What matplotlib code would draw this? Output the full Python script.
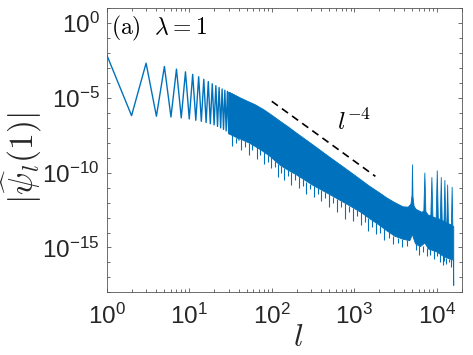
import numpy as np
import matplotlib
matplotlib.use("Agg")
import matplotlib.pyplot as plt
from matplotlib.ticker import FixedLocator, LogLocator, NullFormatter, FuncFormatter

# values, stored as log10 |psi_l(1)|

# first l values: odd / even l alternate between a high and a low branch
l_low = np.arange(1, 41)
logpsi_low = [-2.11, -6.18, -2.67, -6.22, -2.89, -6.27, -3.07, -6.33, -3.25, -6.40,
              -3.42, -6.49, -3.58, -6.56, -3.75, -6.64, -3.90, -6.72, -4.05, -6.80,
              -4.18, -6.90, -4.30, -7.00, -4.40, -7.10, -4.48, -7.20, -4.56, -7.30,
              -4.65, -7.40, -4.72, -7.50, -4.80, -7.60, -4.87, -7.70, -4.94, -7.80]

# dense part: upper edge of the band (includes the resonance peaks near the end)
band_up_l = [30, 40, 50, 63, 80, 100, 126, 160, 200, 300, 500, 700, 1000, 1500,
             2000, 2500, 3100, 3900, 4500, 4850, 5000, 5060, 5130, 5300, 5600,
             6600, 6950, 7150, 7350, 7900, 8450, 8700, 8950, 9800, 10100, 10400,
             11000, 11300, 11600, 12200, 12500, 12800, 13200, 13500, 13800, 15000,
             15300, 15600, 16000]
band_up = [-4.60, -4.95, -5.20, -5.45, -5.78, -6.15, -6.55, -6.95, -7.35, -8.05,
           -8.95, -9.53, -10.15, -10.87, -11.33, -11.70, -12.00, -12.28, -12.30,
           -12.10, -11.50, -9.45, -11.60, -12.25, -12.45, -12.65, -12.55, -10.00,
           -12.60, -12.85, -12.85, -10.30, -12.95, -13.05, -9.85, -13.05, -13.15,
           -10.30, -13.20, -13.25, -10.50, -13.30, -13.35, -10.80, -13.40, -13.50,
           -10.95, -13.55, -13.60]

# lower edge of the band
band_lo_l = [30, 40, 55, 75, 95, 126, 160, 200, 317, 500, 810, 1200, 1560, 2000,
             2500, 3100, 3900, 4700, 5000, 5060, 5150, 5500, 6300, 7150, 7900,
             10000, 12000, 14000, 15800, 16000]
band_lo = [-7.40, -7.70, -8.05, -8.50, -8.90, -9.50, -9.85, -10.15, -10.85, -11.45,
           -12.10, -12.65, -13.10, -13.50, -13.90, -14.25, -14.45, -14.55, -14.20,
           -13.90, -14.30, -14.75, -14.95, -14.70, -15.10, -15.30, -15.60, -15.75,
           -15.85, -17.55]

# thin downward dips below the band
dip_l = [33, 37, 42, 47, 53, 58, 66, 72, 81, 90, 99, 108, 118, 131, 142, 155, 172,
         190, 212, 236, 262, 290, 322, 360, 400, 445, 495, 550, 615, 690, 770, 860,
         960, 1070, 1190, 1330, 1480, 1650, 1840, 2050, 2300, 2600, 2950, 3350,
         3800, 4300, 5600, 6100, 6800, 7600, 8300, 9200, 9900, 10800, 11700, 12200,
         13000, 14200, 14800]
dip_from = [-7.50, -7.65, -7.75, -7.90, -8.00, -8.10, -8.30, -8.40, -8.60, -8.80,
            -8.95, -9.20, -9.40, -9.55, -9.70, -9.80, -9.95, -10.10, -10.25, -10.45,
            -10.60, -10.75, -10.90, -11.00, -11.15, -11.30, -11.45, -11.60, -11.75,
            -11.90, -12.05, -12.20, -12.35, -12.50, -12.65, -12.85, -13.00, -13.15,
            -13.35, -13.50, -13.70, -13.95, -14.20, -14.35, -14.45, -14.50, -14.80,
            -14.90, -14.90, -15.05, -15.10, -15.20, -15.30, -15.40, -15.55, -15.60,
            -15.70, -15.75, -15.80]
dip_to = [-8.20, -8.00, -8.50, -8.30, -8.80, -8.50, -9.10, -8.80, -9.40, -9.30,
          -9.70, -9.60, -10.30, -10.00, -10.50, -10.20, -10.80, -10.50, -11.00,
          -10.90, -11.40, -11.10, -11.60, -11.40, -11.90, -11.70, -12.30, -12.00,
          -12.60, -12.30, -13.10, -12.60, -13.20, -12.90, -13.50, -13.30, -13.90,
          -13.60, -14.10, -14.00, -14.50, -14.40, -14.80, -14.70, -15.00, -14.90,
          -15.20, -15.50, -15.30, -15.60, -15.50, -15.80, -15.60, -16.00, -16.20,
          -15.90, -16.10, -16.00, -16.30]

# reference slope l^-4
ref_l = np.array([100, 1800])
ref_coef = 600.0

plt.rcParams['font.family'] = 'Liberation Sans'
plt.rcParams['mathtext.fontset'] = 'cm'

blue = '#0072BD'
dark = '#262626'


def dec_label(v, pos):
    return r'$\mathregular{10^{%d}}$' % round(np.log10(v))


fig = plt.figure(figsize=(4.73, 3.55), dpi=100)
ax = fig.add_axes([0.2256, 0.1766, 0.7506, 0.80])

band_x = np.r_[band_up_l, band_lo_l[::-1]]
band_y = 10.0 ** np.r_[band_up, band_lo[::-1]]
ax.fill(band_x, band_y, color=blue, ec=blue, lw=0.6)
ax.vlines(dip_l, 10.0 ** np.array(dip_from), 10.0 ** np.array(dip_to), color=blue, lw=0.8)
ax.plot(l_low, 10.0 ** np.array(logpsi_low), color=blue, lw=1.0)
ax.plot(ref_l, ref_coef * ref_l ** -4.0, color='k', lw=1.2, ls='--', dashes=(4.5, 3))

ax.set_xscale('log')
ax.set_yscale('log')
ax.set_xlim(1, 2e4)
ax.set_ylim(1e-18, 1e1)
ax.set_yticks([1e-15, 1e-10, 1e-5, 1e0])
ax.set_xticks([1e0, 1e1, 1e2, 1e3, 1e4])
ax.xaxis.set_major_formatter(FuncFormatter(dec_label))
ax.yaxis.set_major_formatter(FuncFormatter(dec_label))
ax.yaxis.set_minor_locator(FixedLocator(10.0 ** np.arange(-18, 2)))
ax.yaxis.set_minor_formatter(NullFormatter())
ax.xaxis.set_minor_locator(LogLocator(base=10, subs=np.arange(2, 10), numticks=20))
ax.xaxis.set_minor_formatter(NullFormatter())

ax.tick_params(which='both', direction='in', top=True, right=True,
               color='#555555', labelcolor=dark, labelsize=17.5, width=0.6)
ax.tick_params(which='major', length=3)
ax.tick_params(which='minor', length=2)
ax.tick_params(axis='x', pad=8)
ax.tick_params(axis='y', pad=5)
for s in ax.spines.values():
    s.set_color('#555555')
    s.set_linewidth(0.6)

ax.set_xlabel(r'$l$', fontsize=23, color=dark, va='baseline')
ax.xaxis.set_label_coords(0.54, -0.19)
ax.set_ylabel(r'$|\widehat{\psi}_l(1)|$', fontsize=24, color=dark)
ax.yaxis.set_label_coords(-0.176, 0.473)

ax.text(0.011, 0.93, r'$\mathrm{(a)}\ \ \lambda=1$', transform=ax.transAxes,
        fontsize=17, color='k', va='center', ha='left')
ax.text(1000, 10 ** -6.6, r'$l^{-4}$', fontsize=18,
        color='k', ha='center', va='center')

fig.savefig('out.png', dpi=100)
